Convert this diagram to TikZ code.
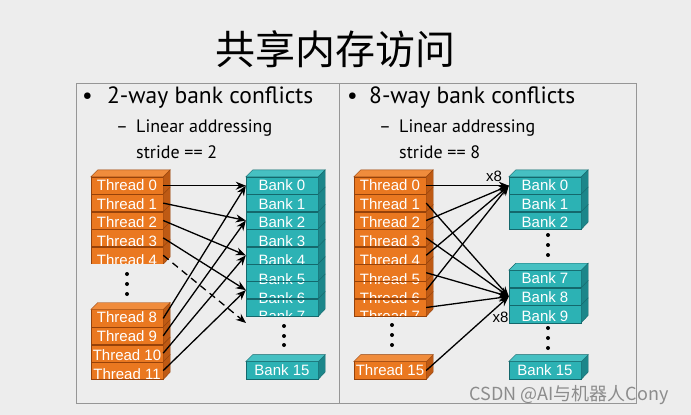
\documentclass[tikz,border=0pt]{standalone}
\usepackage{fontspec}
\setmainfont{PT Sans}
\newfontfamily\cjkfont{Noto Sans CJK SC}
\newfontfamily\cellfont{Liberation Sans}
\usetikzlibrary{arrows.meta,positioning,calc}

\definecolor{slidebg}{RGB}{237,237,237}
\definecolor{boxline}{RGB}{150,150,150}
\definecolor{thrfront}{RGB}{234,120,32}
\definecolor{thrside}{RGB}{190,90,20}
\definecolor{thrtop}{RGB}{240,140,60}
\definecolor{thrline}{RGB}{150,66,10}
\definecolor{bnkfront}{RGB}{44,178,180}
\definecolor{bnkside}{RGB}{28,134,138}
\definecolor{bnktop}{RGB}{70,192,194}
\definecolor{bnkline}{RGB}{20,104,108}

% text of a cell, pushed down a little more for each lower row
\newcommand{\lowered}[2]{\raisebox{-#1pt}{#2}}

% one stack of cells: prefix, kind (thr/bnk), x, y of first centre, first, last, word
% cells are filled from the bottom up, outlines come last
\newcommand{\drawstack}[7]{%
  \foreach \i in {#6,...,#5}{%
    \pgfmathtruncatemacro\k{\i-#5}
    \pgfmathsetmacro\dy{1.4*\k}
    \node[#2] (#1\i) at (#3,{#4+17.4*\k}) {\lowered{\dy}{#7 \i}};
  }
  \foreach \i in {#5,...,#6}{%
    \draw[#2line] (#1\i.north west) rectangle (#1\i.south east);
    \filldraw[fill=#2side,draw=#2line] (#1\i.north east) -- ++(7,-7) -- ++(0,17.4) -- (#1\i.south east) -- cycle;
  }
  \filldraw[fill=#2top,draw=#2line] (#1#5.north west) -- ++(7,-7) -- ($(#1#5.north east)+(7,-7)$) -- (#1#5.north east) -- cycle;
}

\begin{document}
\begin{tikzpicture}[x=1pt,y=-1pt,
  cell/.style={rectangle,minimum width=72,minimum height=17.4,inner sep=0,
    text=white,font=\cellfont\fontsize{15}{15}\selectfont,text height=11pt,text depth=2pt},
  thr/.style={cell,fill=thrfront},
  bnk/.style={cell,fill=bnkfront},
  head/.style={anchor=west,inner sep=0,font=\fontsize{23.5}{23.5}\selectfont},
  sub/.style={anchor=west,inner sep=0,font=\fontsize{18}{18}\selectfont},
  conn/.style={->,>={Stealth[length=10pt,width=8pt]},line width=1.3pt},
  tag/.style={font=\cellfont\fontsize{15}{15}\selectfont},
  dot/.style={fill=black}]

  \fill[slidebg] (0,0) rectangle (691,415);
  \draw[boxline] (76,83) rectangle (636,403);
  \draw[boxline] (339,83) -- (339,403);

  \node (title) at (335,49) {\cjkfont\fontsize{40}{40}\selectfont 共享内存访问};

  % left panel
  \node[head] (lhead) at (82,98) {\makebox[25pt][l]{•}2-way bank conflicts};
  \node[sub] (lsub) at (116,128) {\makebox[20pt][l]{–}Linear addressing};
  \node[sub] (lstride) at (136,152) {stride == 2};

  \begin{scope}
    \clip (80,160) rectangle (180,263.5);
    \drawstack{lthr}{thr}{127}{185.7}{0}{4}{Thread}
  \end{scope}
  \drawstack{lthr}{thr}{127}{318.4}{8}{11}{Thread}
  \begin{scope}
    \clip (240,160) rectangle (335,316);
    \drawstack{lbnk}{bnk}{282}{185.7}{0}{7}{Bank}
  \end{scope}
  \drawstack{lbnk}{bnk}{282}{370.5}{15}{15}{Bank}
  \coordinate (lbnk8) at (246,323);

  \foreach \y in {274,284,294} \fill[dot] (127,\y) circle (2pt);
  \foreach \y in {326,336,345} \fill[dot] (284,\y) circle (2pt);

  \path[conn]
    (lthr0.east) edge (lbnk0.west)
    (lthr1.east) edge (lbnk2.west)
    (lthr2.east) edge (lbnk4.west)
    (lthr3.east) edge (lbnk6.west)
    (lthr4.east) edge[dash pattern=on 7pt off 5pt] (lbnk8)
    (lthr8.east) edge (lbnk0.west)
    (lthr9.east) edge (lbnk2.west)
    (lthr10.east) edge (lbnk4.west)
    (lthr11.east) edge (lbnk6.west);

  % right panel
  \node[head] (rhead) at (347,98) {\makebox[22pt][l]{•}8-way bank conflicts};
  \node[sub] (rsub) at (379,128) {\makebox[20pt][l]{–}Linear addressing};
  \node[sub] (rstride) at (399,152) {stride == 8};

  \begin{scope}
    \clip (345,160) rectangle (440,317);
    \drawstack{rthr}{thr}{390}{185.7}{0}{7}{Thread}
  \end{scope}
  \drawstack{rthr}{thr}{390}{370.5}{15}{15}{Thread}
  \drawstack{rbnk}{bnk}{545}{185.7}{0}{2}{Bank}
  \drawstack{rbnk}{bnk}{545}{279.1}{7}{9}{Bank}
  \drawstack{rbnk}{bnk}{545}{370.5}{15}{15}{Bank}

  \foreach \y in {325,335,345} \fill[dot] (392,\y) circle (2pt);
  \foreach \y in {235,245,255,328,338,348} \fill[dot] (548,\y) circle (2pt);

  \path[conn]
    (rthr0.east) edge node[pos=0.82,above,tag] {x8} (rbnk0.west)
    (rthr2.east) edge (rbnk0.west)
    (rthr4.east) edge (rbnk0.west)
    (rthr6.east) edge (rbnk0.west)
    (rthr1.east) edge (rbnk8.west)
    (rthr3.east) edge (rbnk8.west)
    (rthr5.east) edge (rbnk8.west)
    (rthr7.east) edge (rbnk8.west)
    (rthr15.east) edge node[pos=0.9,below=4pt,tag] {x8} (rbnk8.west);

  \node[text=black!45,font=\cjkfont\fontsize{18}{18}\selectfont] (mark) at (569,395) {CSDN @AI与机器人Cony};
\end{tikzpicture}
\end{document}
